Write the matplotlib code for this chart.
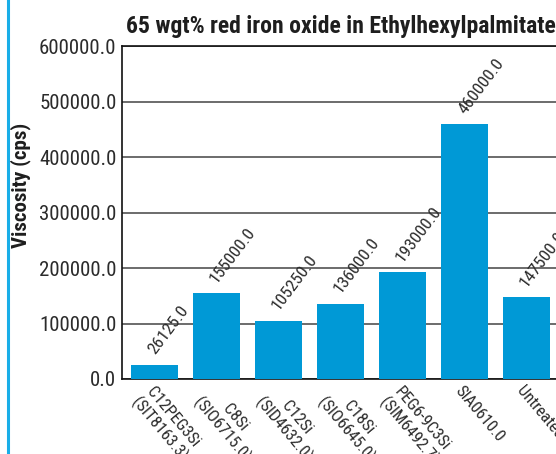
import matplotlib
matplotlib.use("Agg")
import matplotlib.pyplot as plt
from matplotlib import font_manager
from matplotlib.lines import Line2D

# Viscosity of 65 wgt% red iron oxide dispersions, by surface treatment
categories = [
    "C12PEG3Si\n(SIT8163.3)",
    "C8Si\n(SIO6715.0)",
    "C12Si\n(SID4632.0)",
    "C18Si\n(SIO6645.0)",
    "PEG6-9C3Si\n(SIM6492.7)",
    "SIA0610.0",
    "Untreated",
]
viscosity = [26125.0, 155000.0, 105250.0, 136000.0, 193000.0, 460000.0, 147500.0]
yticks = [0, 100000, 200000, 300000, 400000, 500000, 600000]

BAR_COLOR = "#0099d6"
TEXT_COLOR = "#2b2b2b"

# prefer a narrow sans if one is around
installed = {f.name for f in font_manager.fontManager.ttflist}
narrow = [n for n in ("Liberation Sans Narrow", "Roboto Condensed",
                      "DejaVu Sans Condensed", "Open Sans Condensed")
          if n in installed]
plt.rcParams["font.family"] = narrow[:1] + ["DejaVu Sans"]


def main():
    fig = plt.figure(figsize=(5.56, 4.54), dpi=100)
    ax = fig.add_axes([0.2194, 0.1652, 0.786, 0.7324])

    x = list(range(len(categories)))
    ax.bar(x, viscosity, width=0.76, color=BAR_COLOR, zorder=3)

    ax.set_xlim(-0.525, 6.525)
    ax.set_ylim(0, 600000)
    ax.set_yticks(yticks)
    ax.set_yticklabels([f"{v:.1f}" for v in yticks], fontsize=15, color=TEXT_COLOR)
    ax.tick_params(axis="y", length=0, pad=4)
    ax.tick_params(axis="x", length=0, labelbottom=False)

    ax.yaxis.grid(True, color="#444444", linewidth=1.1, zorder=1)
    ax.set_axisbelow(True)
    for side in ("left", "top", "bottom"):
        ax.spines[side].set_color("#111111")
        ax.spines[side].set_linewidth(1.2)
    ax.spines["right"].set_visible(False)

    # value labels above each bar
    for xi, v in zip(x, viscosity):
        ax.annotate(f"{v:.1f}", xy=(xi, v), xytext=(-3, 12),
                    textcoords="offset pixels", rotation=53,
                    rotation_mode="anchor", ha="left", va="center",
                    fontsize=12.5, color=TEXT_COLOR)

    # rotated category labels under the axis
    for xi, name in zip(x, categories):
        ax.annotate(name, xy=(xi, 0), xytext=(-1, -4),
                    textcoords="offset pixels", rotation=-50,
                    rotation_mode="anchor", ha="left", va="top",
                    multialignment="center", fontsize=12,
                    linespacing=1.1, color=TEXT_COLOR,
                    annotation_clip=False)

    ax.set_title("65 wgt% red iron oxide in Ethylhexylpalmitate",
                 fontsize=17, fontweight="bold", color="#1e1e1e", pad=10)
    fig.text(21 / 556, 0.591, "Viscosity (cps)", rotation=90,
             ha="center", va="center", fontsize=15, fontweight="bold",
             color="#1e1e1e")

    # thin blue rule down the left edge
    fig.add_artist(Line2D([0.0149, 0.0149], [0, 1], color="#19aee8",
                          linewidth=2.2, transform=fig.transFigure))

    fig.savefig("out.png", dpi=100)


if __name__ == "__main__":
    main()
